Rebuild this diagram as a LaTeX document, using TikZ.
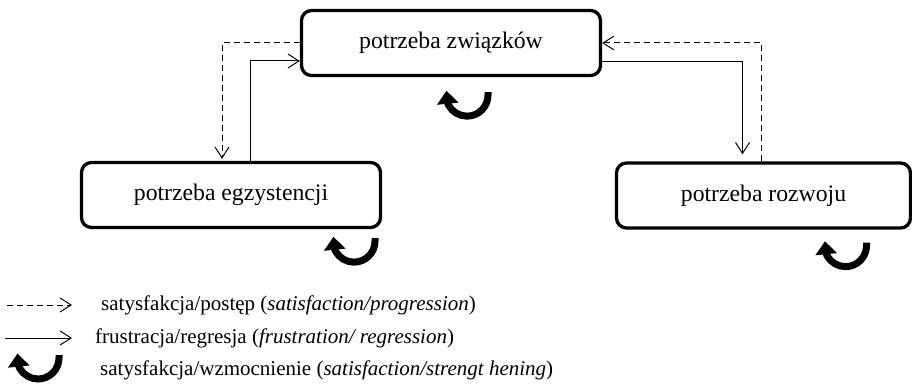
\documentclass[tikz,border=0pt]{standalone}
\usepackage{fontspec}
\setmainfont{Liberation Serif}
\usetikzlibrary{arrows.meta,calc,bending}

\tikzset{
  need/.style={draw, line width=3.3pt, rounded corners=10pt,
    minimum width=299pt, minimum height=65pt, inner sep=0pt,
    font=\fontsize{23.7}{28}\selectfont},
  flow/.style={line width=1pt, -{Straight Barb[length=11pt,width=14pt]}},
  progress/.style={flow, dash pattern=on 6pt off 4pt},
  regress/.style={flow},
  legendtext/.style={anchor=west, inner sep=0pt, font=\fontsize{21}{25}\selectfont},
  loopback/.style={line width=7pt, -{Triangle[length=13pt,width=21pt,flex]}},
  reinforce/.pic={\draw[loopback] (0,0) -- (0,3) arc[start angle=0,end angle=192,radius=21];}
}

\begin{document}
\begin{tikzpicture}[x=1pt,y=-1pt]
\useasboundingbox (0,0) rectangle (912,385);

% the three needs
\node[need] (rel) at (451,43) {potrzeba związków};
\node[need] (ex) at (231,195) {potrzeba egzystencji};
\node[need, minimum width=294pt] (gr) at (763.5,195.5) {potrzeba rozwoju};

% progression (dashed) and regression (solid) between the needs
\draw[progress] (rel.west) -| ($(ex.north)+(-9,-2)$);
\draw[regress] ($(ex.north)+(19,0)$) |- ($(rel.west)+(0,18)$);
\draw[regress] ($(rel.east)+(0,19)$) -| ($(gr.north)+(-21,-7)$);
\draw[progress] ($(gr.north)+(-2,0)$) |- (rel.east);

% strengthening loops under each box
\coordinate (lrel) at ($(rel.south)+(37,15)$);
\coordinate (lex) at ($(ex.south)+(144,9)$);
\coordinate (lgr) at ($(gr.south)+(103,13)$);
\pic at (lrel) {reinforce};
\pic at (lex) {reinforce};
\pic at (lgr) {reinforce};

% legend
\coordinate (k1a) at (7,305);  \coordinate (k1b) at (72,305);
\coordinate (k2a) at (5,338);  \coordinate (k2b) at (72,338);
\coordinate (k3) at (59,355);
\draw[progress] (k1a) -- (k1b);
\draw[regress] (k2a) -- (k2b);
\pic at (k3) {reinforce};
\node[legendtext] (t1) at (101,305) {satysfakcja/postęp (\textit{satisfaction/progression})};
\node[legendtext] (t2) at (95,338) {frustracja/regresja (\textit{frustration/ regression})};
\node[legendtext] (t3) at (100,370) {satysfakcja/wzmocnienie (\textit{satisfaction/strengt hening})};
\end{tikzpicture}
\end{document}
